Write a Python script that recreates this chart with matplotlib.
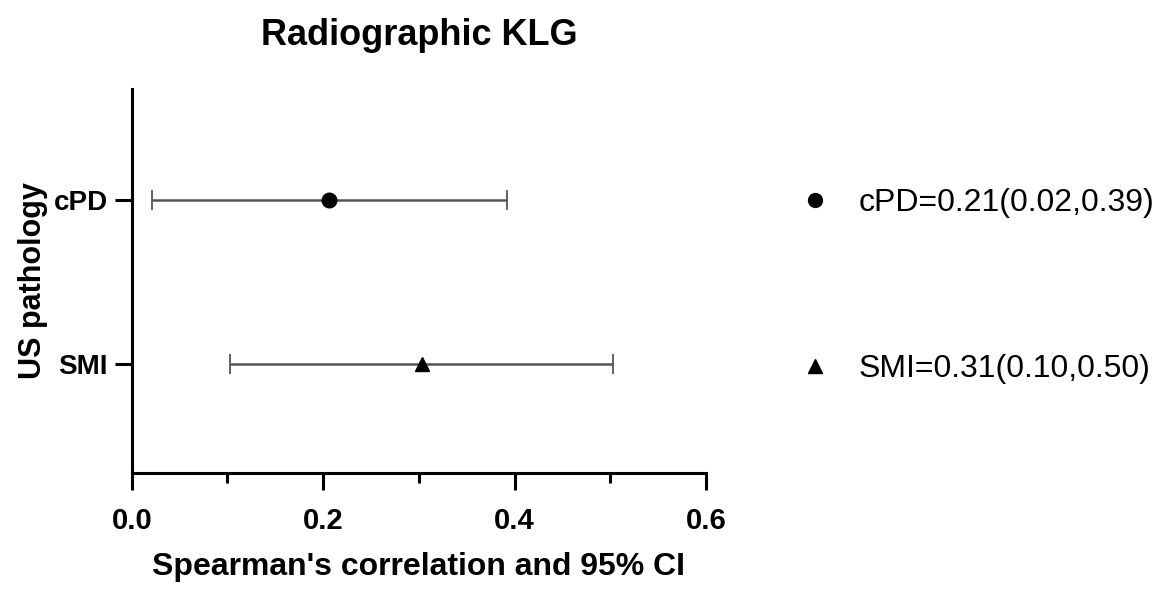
import numpy as np
import matplotlib
matplotlib.use("Agg")
import matplotlib.pyplot as plt
from matplotlib.ticker import MultipleLocator

plt.rcParams["font.family"] = ["Liberation Sans", "DejaVu Sans"]

# data
labels = ["cPD", "SMI"]
est = [0.206, 0.303]
lo = [0.021, 0.103]
hi = [0.392, 0.503]
legend_text = ["cPD=0.21(0.02,0.39)", "SMI=0.31(0.10,0.50)"]
markers = ["o", "^"]
ypos = [1, 0]

fig = plt.figure(figsize=(11.68, 5.94), dpi=100)
ax = fig.add_axes([0.1128, 0.2042, 0.4917, 0.646])

handles = []
for i in range(len(labels)):
    ax.errorbar(est[i], ypos[i],
                xerr=[[est[i] - lo[i]], [hi[i] - est[i]]],
                fmt="none", ecolor="#555555", elinewidth=1.8,
                capsize=7, capthick=1.3, zorder=2)
    h, = ax.plot(est[i], ypos[i], marker=markers[i], color="black",
                 markersize=10.5 if markers[i] == "o" else 10,
                 linestyle="none", zorder=3)
    handles.append(h)

ax.set_xlim(0, 0.6)
ax.set_ylim(-0.663, 1.677)
ax.xaxis.set_major_locator(MultipleLocator(0.2))
ax.xaxis.set_minor_locator(MultipleLocator(0.1))
ax.set_xticklabels([f"{v:.1f}" for v in ax.get_xticks()])
ax.set_yticks(ypos)
ax.set_yticklabels(labels)

for s in ["top", "right"]:
    ax.spines[s].set_visible(False)
for s in ["left", "bottom"]:
    ax.spines[s].set_linewidth(2.2)

ax.tick_params(axis="both", which="major", length=12, width=2.2)
ax.tick_params(axis="x", which="major", labelsize=21, pad=13)
ax.tick_params(axis="y", which="major", labelsize=20, pad=5)
ax.tick_params(axis="x", which="minor", length=7, width=2.2)
for t in ax.get_xticklabels() + ax.get_yticklabels():
    t.set_fontweight("bold")

ax.set_title("Radiographic KLG", fontsize=26, fontweight="bold", pad=32)
ax.set_xlabel("Spearman's correlation and 95% CI", fontsize=23,
              fontweight="bold", labelpad=12)
ax.set_ylabel("US pathology", fontsize=22, fontweight="bold", labelpad=4)

fig.legend(handles, legend_text, loc="upper left",
           bbox_to_anchor=(0.657, 0.732), frameon=False, fontsize=23,
           labelspacing=4.25, handletextpad=0.75, markerscale=0.95,
           handlelength=1.2)

plt.savefig("out.png", dpi=100)
